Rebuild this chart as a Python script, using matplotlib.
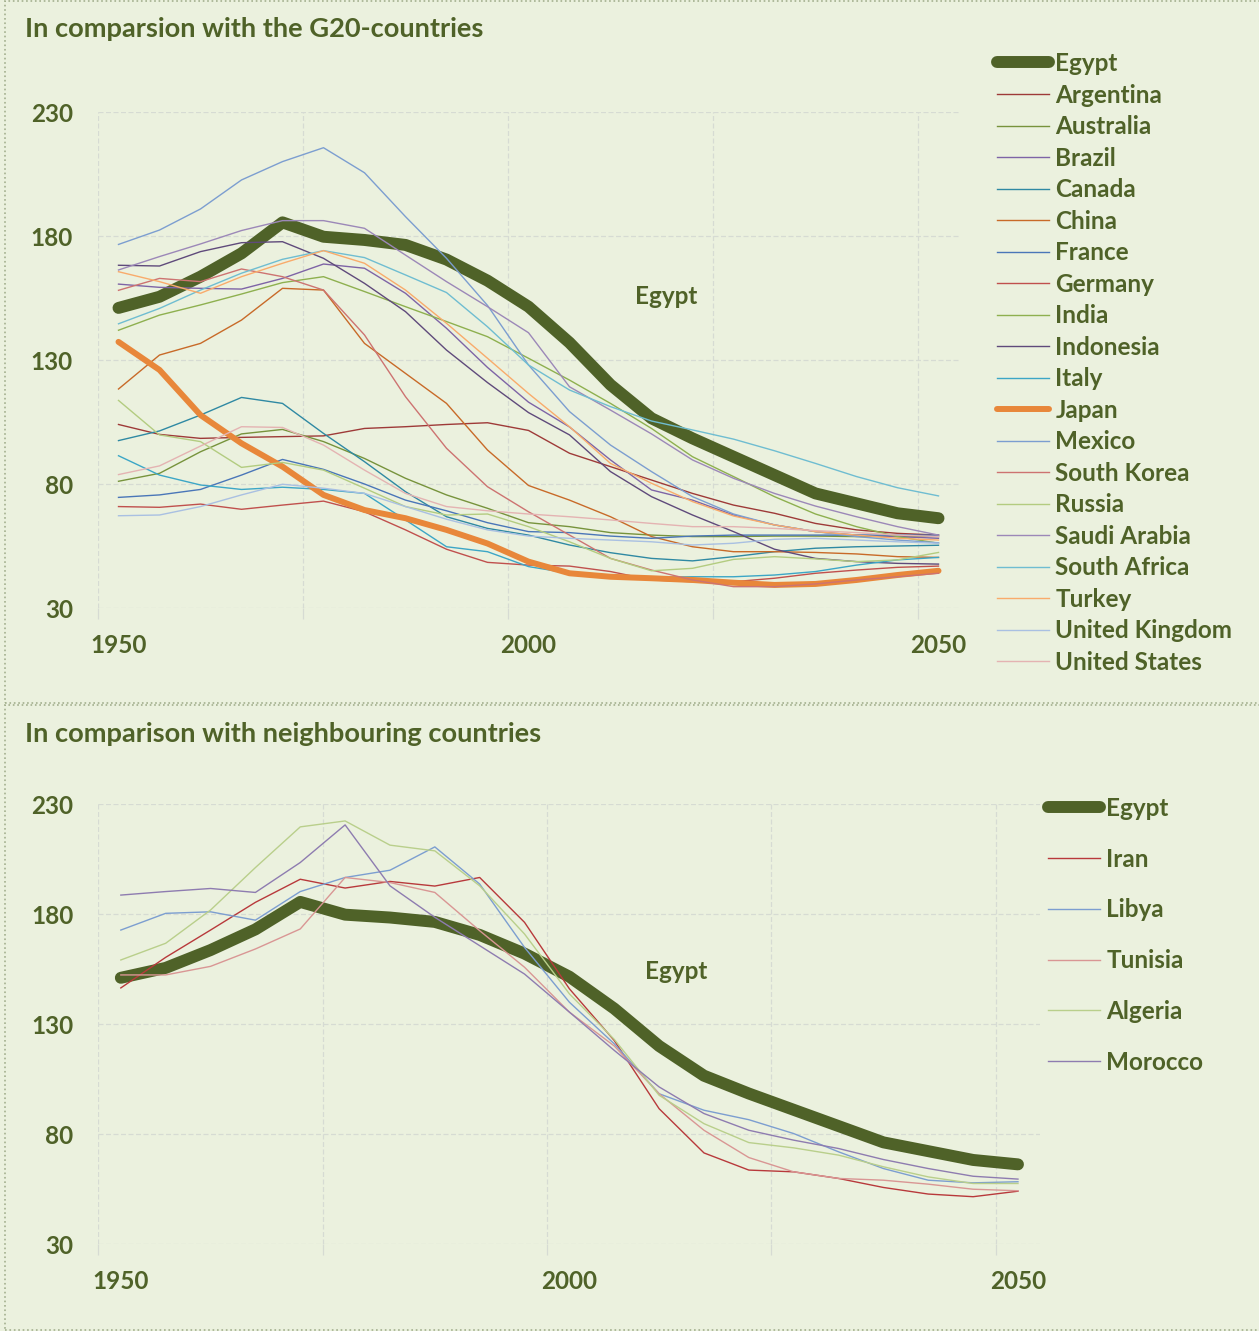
import matplotlib
matplotlib.use("Agg")
import matplotlib.pyplot as plt
from matplotlib.patches import Rectangle

# categories: 5-year steps
years = [1950, 1955, 1960, 1965, 1970, 1975, 1980, 1985, 1990, 1995, 2000,
         2005, 2010, 2015, 2020, 2025, 2030, 2035, 2040, 2045, 2050]

egypt = [151.0, 155.5, 163.6, 173.0, 185.5, 179.7, 178.4, 176.4, 170.5, 162.0, 151.5,
         137.0, 120.0, 106.5, 98.4, 91.0, 83.6, 76.2, 72.2, 68.2, 66.2]

# G20 countries
g20_names = ["Argentina", "Australia", "Brazil", "Canada", "China", "France", "Germany",
             "India", "Indonesia", "Italy", "Japan", "Mexico", "South Korea", "Russia",
             "Saudi Arabia", "South Africa", "Turkey", "United Kingdom", "United States"]
argentina = [104.0, 100.0, 98.4, 98.8, 99.1, 99.4, 102.4, 103.1, 104.0, 104.7, 101.6,
             92.4, 87.0, 81.6, 76.2, 71.5, 68.2, 64.1, 61.5, 60.1, 59.4]
australia = [81.1, 84.3, 93.0, 100.2, 102.0, 97.1, 90.3, 82.3, 75.6, 70.2, 64.4,
             62.8, 60.4, 59.4, 58.8, 58.8, 59.0, 59.0, 58.8, 58.8, 58.8]
brazil = [160.6, 159.3, 158.9, 158.6, 162.9, 168.7, 167.0, 156.9, 142.8, 127.0, 113.0,
          103.0, 89.7, 77.6, 73.5, 67.5, 63.5, 60.8, 59.4, 58.8, 58.1]
canada = [97.5, 101.4, 107.8, 114.9, 112.5, 100.4, 89.0, 76.9, 66.8, 62.1, 59.4,
          55.4, 52.3, 50.0, 49.0, 50.7, 52.7, 54.1, 54.7, 55.0, 55.3]
china = [118.3, 132.0, 136.7, 146.1, 158.9, 158.2, 136.7, 124.6, 112.5, 93.7, 79.4,
         73.5, 66.8, 58.8, 54.7, 52.7, 52.7, 52.4, 51.8, 50.7, 50.4]
france = [74.6, 75.6, 77.8, 83.6, 89.9, 85.9, 80.0, 73.5, 69.2, 64.4, 60.8,
          60.4, 59.0, 58.1, 59.0, 59.4, 59.4, 59.4, 59.4, 59.4, 59.4]
germany = [70.9, 70.6, 71.9, 69.8, 71.5, 73.1, 68.8, 61.5, 53.7, 48.4, 47.3,
           46.9, 44.7, 41.3, 40.6, 40.6, 42.0, 44.0, 45.3, 46.4, 46.9]
india = [142.0, 148.1, 152.2, 156.6, 161.2, 163.6, 157.6, 151.5, 145.5, 139.4, 130.7,
         121.9, 112.5, 102.4, 91.0, 83.0, 74.9, 67.9, 62.8, 58.8, 56.1]
indonesia = [168.2, 167.9, 173.7, 177.3, 177.7, 171.0, 160.9, 149.5, 134.0, 120.9, 108.8,
             99.8, 85.0, 74.9, 67.5, 60.8, 53.7, 50.0, 48.7, 48.0, 47.7]
italy = [91.4, 83.6, 79.6, 77.8, 78.7, 77.8, 76.2, 65.5, 54.7, 52.7, 46.7,
         44.0, 42.9, 42.4, 42.6, 42.6, 43.3, 44.7, 47.3, 49.4, 50.4]
japan = [137.3, 126.0, 107.8, 96.4, 87.0, 75.6, 69.5, 66.2, 61.5, 56.0, 48.7,
         44.0, 42.6, 42.0, 41.3, 40.2, 39.3, 39.7, 41.3, 43.3, 45.0]
mexico = [176.6, 182.4, 190.9, 202.6, 210.0, 215.6, 205.5, 187.8, 171.0, 152.0, 128.0,
          109.2, 95.7, 85.0, 74.9, 67.9, 63.5, 60.8, 58.8, 57.4, 56.3]
south_korea = [158.1, 162.9, 161.6, 166.7, 163.6, 158.2, 140.1, 115.2, 94.4, 78.9, 68.8,
               59.4, 50.0, 45.3, 41.3, 38.6, 38.6, 39.7, 41.3, 42.6, 44.0]
russia = [113.7, 99.8, 97.1, 86.7, 88.7, 85.6, 78.3, 70.9, 67.5, 67.9, 62.8,
          56.7, 50.0, 45.0, 46.0, 49.6, 50.7, 49.8, 48.7, 49.4, 52.4]
saudi_arabia = [166.3, 171.7, 176.8, 182.2, 186.2, 186.2, 183.1, 172.3, 161.6, 151.5, 141.0,
                119.2, 109.8, 100.2, 89.7, 82.3, 76.2, 71.1, 66.8, 62.8, 59.4]
south_africa = [144.6, 150.8, 158.2, 165.0, 170.6, 174.1, 171.3, 164.3, 157.2, 143.4, 128.0,
                117.9, 111.2, 105.4, 101.8, 98.1, 93.4, 88.3, 83.0, 78.5, 75.2]
turkey = [165.6, 161.6, 156.9, 163.6, 169.0, 174.1, 169.0, 158.2, 144.8, 130.7, 116.5,
          103.1, 88.3, 80.3, 72.9, 67.1, 63.5, 60.8, 59.4, 58.1, 57.4]
united_kingdom = [67.2, 67.5, 70.9, 75.6, 79.9, 78.3, 76.2, 70.9, 65.8, 61.5, 59.0,
                  58.1, 57.4, 56.7, 55.4, 56.1, 57.7, 58.1, 57.4, 56.7, 56.1]
united_states = [83.8, 87.3, 95.3, 103.1, 102.8, 95.7, 85.6, 76.2, 70.9, 69.2, 67.9,
                 66.8, 65.5, 64.1, 62.8, 62.8, 62.1, 61.2, 60.4, 59.4, 58.8]
g20_series = [argentina, australia, brazil, canada, china, france, germany, india,
              indonesia, italy, japan, mexico, south_korea, russia, saudi_arabia,
              south_africa, turkey, united_kingdom, united_states]
g20_colors = ["#9E3A38", "#77933C", "#7E64A6", "#2F89A3", "#C86A28", "#4A76B8", "#C0504D",
              "#8EB04F", "#5F4A7B", "#3CA6C6", "#E8873A", "#7C9ED0", "#CD7371", "#B3CC80",
              "#9C88B8", "#6FBDD1", "#F9AB6B", "#A9C0E2", "#E4B3B2"]

# neighbouring countries
nb_names = ["Iran", "Libya", "Tunisia", "Algeria", "Morocco"]
iran = [146.4, 160.3, 172.7, 185.3, 195.8, 191.8, 194.8, 192.7, 196.6, 176.2, 146.0,
        122.5, 91.5, 71.4, 63.6, 62.8, 59.8, 55.7, 52.7, 51.5, 54.0]
libya = [172.7, 180.3, 181.0, 177.2, 190.2, 196.6, 199.9, 210.5, 193.6, 164.8, 139.9,
         121.0, 98.3, 90.8, 86.5, 80.2, 71.9, 64.3, 59.0, 57.8, 58.3]
tunisia = [152.3, 152.3, 156.2, 164.1, 173.2, 196.6, 194.3, 189.8, 172.4, 155.8, 135.4,
           120.0, 98.3, 81.7, 69.3, 62.8, 59.8, 59.0, 57.2, 54.9, 54.2]
algeria = [159.1, 166.7, 181.8, 201.1, 219.6, 222.3, 211.3, 208.7, 192.8, 170.9, 143.7,
           123.0, 97.6, 84.7, 76.1, 73.7, 70.4, 65.1, 60.5, 57.5, 57.5]
morocco = [188.6, 190.2, 191.6, 189.8, 203.4, 220.5, 192.8, 178.5, 165.6, 152.7, 135.4,
           118.0, 101.4, 89.3, 81.7, 77.2, 73.4, 68.4, 64.3, 60.8, 59.5]
nb_series = [iran, libya, tunisia, algeria, morocco]
nb_colors = ["#B8393B", "#7C9ED0", "#D99694", "#B9CF8B", "#8E7CB0"]

BG = "#EBF1DE"
TXT = "#4F6228"
GRID = "#D6DBD3"
W, H = 1259, 1331

plt.rcParams["font.family"] = ["Lato", "DejaVu Sans"]
plt.rcParams["font.weight"] = "bold"
FS = 17.5
TITLE_FS = 19.6

fig = plt.figure(figsize=(W / 100, H / 100), dpi=100, facecolor=BG)
ax1 = fig.add_axes([98 / W, 1 - 608 / H, 861 / W, 496 / H])
ax2 = fig.add_axes([98.4 / W, 1 - 1244 / H, 942 / W, 440 / H])


def style_axes(ax):
    ax.set_facecolor(BG)
    ax.set_xlim(1947.5, 2052.5)
    ax.set_ylim(30, 230)
    for s in ax.spines.values():
        s.set_visible(False)
    ax.set_yticks([30, 80, 130, 180, 230])
    ax.set_xticks([1950, 2000, 2050])
    ax.set_xticks([1947.5, 1972.5, 1997.5, 2022.5, 2047.5], minor=True)
    ax.grid(axis="y", which="major", color=GRID, lw=0.9, ls=(0, (4, 2)))
    ax.grid(axis="x", which="minor", color=GRID, lw=0.9, ls=(0, (4, 2)))
    ax.tick_params(axis="x", which="major", length=0, pad=19, labelsize=FS,
                   labelcolor=TXT)
    ax.tick_params(axis="x", which="minor", length=8, width=0.9, color=GRID)
    ax.tick_params(axis="y", length=0, pad=18, labelsize=FS, labelcolor=TXT)
    for lab in ax.get_xticklabels() + ax.get_yticklabels():
        lab.set_fontweight("bold")
    ax.set_axisbelow(True)


style_axes(ax1)
style_axes(ax2)

# top panel
ax1.plot(years, egypt, color=TXT, lw=8.6, solid_capstyle="round",
         solid_joinstyle="round", label="Egypt", clip_on=False)
for name, vals, col in zip(g20_names, g20_series, g20_colors):
    if name == "Japan":
        ax1.plot(years, vals, color=col, lw=4.3, solid_capstyle="round",
                 solid_joinstyle="round", label=name, clip_on=False)
    else:
        ax1.plot(years, vals, color=col, lw=1.0, label=name)
ax1.text(2016.8, 155.8, "Egypt", color=TXT, fontsize=FS, fontweight="bold",
         ha="center", va="center")
ax1.legend(loc="upper left", bbox_to_anchor=(997 / W, 1 - 52 / H),
           bbox_transform=fig.transFigure, frameon=False, handlelength=2.15,
           handletextpad=0.25, labelspacing=0.35, borderpad=0, borderaxespad=0,
           labelcolor=TXT, prop={"weight": "bold", "size": FS})

# bottom panel
ax2.plot(years, egypt, color=TXT, lw=8.6, solid_capstyle="round",
         solid_joinstyle="round", label="Egypt", clip_on=False)
for name, vals, col in zip(nb_names, nb_series, nb_colors):
    ax2.plot(years, vals, color=col, lw=1.0, label=name)
ax2.text(2011.9, 153.8, "Egypt", color=TXT, fontsize=FS, fontweight="bold",
         ha="center", va="center")
ax2.legend(loc="upper left", bbox_to_anchor=(1048 / W, 1 - 797 / H),
           bbox_transform=fig.transFigure, frameon=False, handlelength=2.15,
           handletextpad=0.25, labelspacing=1.14, borderpad=0, borderaxespad=0,
           labelcolor=TXT, prop={"weight": "bold", "size": FS})

# panel titles
fig.text(25 / W, 1 - 29 / H, "In comparsion with the G20-countries", color=TXT,
         fontsize=TITLE_FS, fontweight="bold", ha="left", va="center")
fig.text(25 / W, 1 - 734 / H, "In comparison with neighbouring countries", color=TXT,
         fontsize=TITLE_FS, fontweight="bold", ha="left", va="center")

# dotted chart frames
for top, bot in [(1, 703), (705, 1330)]:
    fig.add_artist(Rectangle((5 / W, 1 - bot / H), 1.0, (bot - top) / H,
                             transform=fig.transFigure, fill=False, ls=":",
                             ec="#A3AF8E", lw=1.2))

fig.savefig("out.png", dpi=100, facecolor=BG)
